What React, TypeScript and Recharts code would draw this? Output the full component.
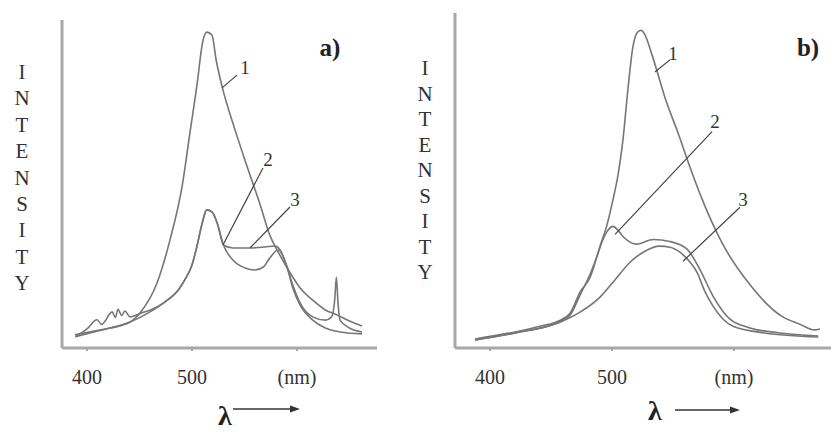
import { LineChart, Line, XAxis, YAxis, ReferenceLine, ReferenceDot } from 'recharts';

// panel a) — wavelength (nm) / intensity (a.u.)
const A1_NM = [388.6, 412, 431, 441, 450.5, 466.7, 479, 490.5, 498, 505, 510, 514, 519, 523, 529, 541, 552, 565, 574, 582, 593, 603, 615, 627, 638, 650, 662];
const A1_INT = [4.0, 5.5, 6.7, 7.9, 10.7, 19.8, 32.9, 49.1, 65.5, 80.8, 93.0, 96.3, 95.4, 87.8, 79.3, 66.5, 55.8, 43.6, 34.5, 29.3, 23.2, 18.3, 14.6, 11.6, 10.1, 8.2, 6.7];

const A2_NM = [389, 400, 409.5, 414, 424, 427, 429.5, 433, 436, 441, 447.6, 453, 460, 474, 487, 493, 500, 505, 510, 514, 519, 524, 530, 539, 550.5, 560, 568, 574, 582, 590.5, 596, 603, 615, 627, 641, 662];
const A2_INT = [3.4, 5.8, 8.6, 7.2, 11.0, 9.3, 11.8, 9.9, 11.3, 9.5, 10.1, 10.8, 11.5, 14.0, 17.7, 20.7, 25.3, 31.4, 38.4, 42.1, 41.5, 38.1, 31.4, 26.8, 24.4, 23.8, 24.7, 27.4, 29.9, 24.7, 18.3, 13.1, 8.5, 6.1, 4.9, 4.3];

const A3_NM = [389, 403, 422, 441, 460, 474, 487, 493, 500, 505, 510, 514, 519, 524, 530, 539, 555, 569.5, 579, 584, 590.5, 596, 603, 615, 627, 633, 636, 637.5, 639, 641, 650, 662];
const A3_INT = [3.4, 4.6, 6.1, 7.9, 11.0, 14.0, 17.7, 20.7, 25.3, 31.4, 38.4, 42.1, 41.5, 38.1, 31.4, 30.5, 30.5, 30.8, 31.1, 29.9, 24.7, 19.2, 13.7, 9.5, 8.5, 9.5, 15.0, 21.6, 14.0, 8.5, 6.1, 4.9];

// panel b)
const B1_NM = [387.7, 420.5, 441, 455.7, 465.6, 473.8, 482, 490.2, 496, 500.8, 505, 509, 513, 517, 521, 524, 527, 532.8, 544, 554, 564, 574, 590, 611.5, 639, 654, 666, 670.5];
const B1_INT = [2.7, 4.8, 6.5, 8.0, 10.4, 16.7, 21.1, 30.4, 36.9, 44.3, 51.8, 62.2, 77.1, 89.6, 94.3, 94.8, 93.5, 87.5, 74.1, 64.3, 53.9, 44.3, 31.5, 19.6, 9.5, 7.1, 5.4, 5.7];

const B2_NM = [387.7, 420.5, 455.7, 465.6, 473.8, 482, 487.7, 492.6, 496, 500.8, 505, 509, 520.5, 533.6, 547.5, 561.5, 572, 582.8, 596.7, 613, 637.7, 669];
const B2_INT = [2.4, 4.5, 7.7, 9.8, 15.8, 22.0, 27.4, 32.4, 34.8, 36.3, 35.1, 33.3, 31.0, 32.4, 31.8, 29.5, 23.5, 15.5, 8.6, 6.0, 4.5, 3.6];

const B3_NM = [387.7, 420.5, 457.4, 473.8, 490.2, 500.8, 514.8, 527, 539, 547.5, 555.7, 564, 569.7, 576, 582.8, 599.2, 625, 669];
const B3_INT = [2.4, 4.5, 7.7, 10.7, 15.2, 19.6, 25.6, 28.9, 30.4, 30.1, 28.6, 25.6, 22.6, 17.0, 12.5, 6.5, 4.5, 3.3];

const TICKS = [400, 500, 600];
const TICK_LABELS: Record<number, string> = { 400: '400', 500: '500', 600: '(nm)' };
const Y_LETTERS = 'INTENSITY'.split('');

// leader lines: [label, labelNm, labelInt, fromNm, fromInt, toNm, toInt]
const A_LEADERS: [string, number, number, number, number, number, number][] = [
  ['1', 550.5, 85.4, 542.9, 83.2, 528.6, 79.3],
  ['2', 572.4, 57.3, 567.6, 54.9, 529.5, 31.4],
  ['3', 598.1, 45.1, 593.3, 43.0, 555.2, 30.5],
];
const B_LEADERS: [string, number, number, number, number, number, number][] = [
  ['1', 550.0, 87.8, 547.5, 86.0, 535.2, 82.4],
  ['2', 584.4, 67.6, 582.0, 64.6, 502.5, 33.9],
  ['3', 607.4, 44.3, 604.9, 42.0, 558.2, 25.9],
];

const zip = (xs: number[], ys: number[]) => xs.map((x, i) => ({ x, y: ys[i] }));

const SERIF = '"Liberation Serif", "Times New Roman", serif';
const CURVE = '#767676';
const AXIS = '#a8a8a8';
const TEXT = '#333';

function Panel({ left, width, top, plotLeft, plotRight, domain, series, leaders }: {
  left: number; width: number; top: number; plotLeft: number; plotRight: number;
  domain: [number, number]; series: { x: number; y: number }[][];
  leaders: [string, number, number, number, number, number, number][];
}) {
  return (
    <div style={{ position: 'absolute', left, top: 0 }}>
      <LineChart width={width} height={435} margin={{ top, right: width - plotRight, bottom: 0, left: 0 }}>
        <XAxis
          type="number"
          dataKey="x"
          domain={domain}
          ticks={TICKS}
          allowDataOverflow
          height={87}
          axisLine={{ stroke: AXIS, strokeWidth: 3 }}
          tickLine={{ stroke: AXIS, strokeWidth: 2 }}
          tickSize={3}
          tickMargin={0}
          tick={(p: any) => (
            <text x={p.x} y={p.y} dy={33} textAnchor="middle" fontFamily={SERIF} fontSize={20} fill={TEXT}>
              {TICK_LABELS[p.payload.value]}
            </text>
          )}
        />
        <YAxis
          type="number"
          domain={[0, 100]}
          width={plotLeft}
          tick={false}
          tickLine={false}
          axisLine={{ stroke: AXIS, strokeWidth: 3 }}
        />
        {series.map((d, i) => (
          <Line key={i} data={d} dataKey="y" type="monotone" stroke={CURVE} strokeWidth={1.6} dot={false} isAnimationActive={false} />
        ))}
        {leaders.map(([lab, lx, ly, x1, y1, x2, y2]) => (
          <ReferenceLine key={'l' + lab} segment={[{ x: x1, y: y1 }, { x: x2, y: y2 }]} stroke="#444" strokeWidth={1.2} ifOverflow="visible" />
        ))}
        {leaders.map(([lab, lx, ly]) => (
          <ReferenceDot
            key={'d' + lab}
            x={lx}
            y={ly}
            r={0}
            ifOverflow="visible"
            shape={(p: any) => (
              <text x={p.cx} y={p.cy} dy={6} textAnchor="middle" fontFamily={SERIF} fontSize={19} fill={TEXT}>{lab}</text>
            )}
          />
        ))}
      </LineChart>
    </div>
  );
}

export default function App() {
  return (
    <div style={{ position: 'absolute', left: 0, top: 0, width: 831, height: 435, background: '#fff', overflow: 'hidden' }}>
      <Panel left={0} width={415} top={20} plotLeft={62} plotRight={377} domain={[376.2, 676.2]}
        series={[zip(A1_NM, A1_INT), zip(A2_NM, A2_INT), zip(A3_NM, A3_INT)]} leaders={A_LEADERS} />
      <Panel left={415} width={416} top={13} plotLeft={40} plotRight={416} domain={[371.3, 679.5]}
        series={[zip(B1_NM, B1_INT), zip(B2_NM, B2_INT), zip(B3_NM, B3_INT)]} leaders={B_LEADERS} />
      <svg width={831} height={435} style={{ position: 'absolute', left: 0, top: 0, pointerEvents: 'none' }}>
        {Y_LETTERS.map((c, i) => (
          <text key={'a' + i} x={22} y={72 + i * 26.4} dy={7} textAnchor="middle" fontFamily={SERIF} fontSize={21} fill={TEXT}>{c}</text>
        ))}
        {Y_LETTERS.map((c, i) => (
          <text key={'b' + i} x={425} y={68 + i * 25.5} dy={7} textAnchor="middle" fontFamily={SERIF} fontSize={21} fill={TEXT}>{c}</text>
        ))}
        <text x={330} y={56} textAnchor="middle" fontFamily={SERIF} fontSize={25} fontWeight="bold" fill="#222">a)</text>
        <text x={808} y={56} textAnchor="middle" fontFamily={SERIF} fontSize={25} fontWeight="bold" fill="#222">b)</text>
        <text x={225} y={425} textAnchor="middle" fontFamily={SERIF} fontSize={28} fontWeight="bold" fill="#222">λ</text>
        <text x={655} y={420} textAnchor="middle" fontFamily={SERIF} fontSize={28} fontWeight="bold" fill="#222">λ</text>
        <line x1={233} y1={409} x2={292} y2={409} stroke="#333" strokeWidth={1.3} />
        <polygon points="300,409 290,405.5 290,412.5" fill="#333" />
        <line x1={675} y1={410} x2={732} y2={410} stroke="#333" strokeWidth={1.3} />
        <polygon points="740,410 730,406.5 730,413.5" fill="#333" />
      </svg>
    </div>
  );
}
